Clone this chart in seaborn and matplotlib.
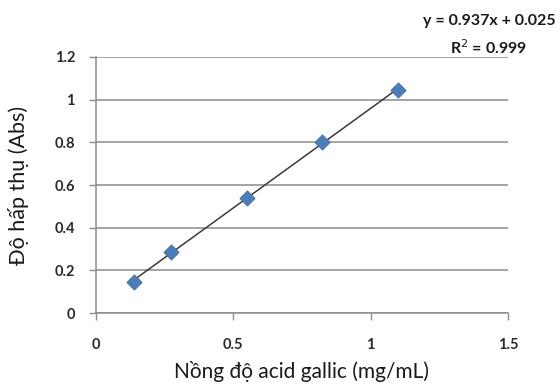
import numpy as np
import seaborn as sns
import matplotlib.pyplot as plt
import pandas as pd

# nồng độ (mg/mL) và độ hấp thụ
conc = [0.1375, 0.275, 0.55, 0.825, 1.1]
absorb = [0.148, 0.288, 0.538, 0.802, 1.047]
x_ticks = [0, 0.5, 1, 1.5]
y_ticks = [0, 0.2, 0.4, 0.6, 0.8, 1, 1.2]
y_tick_labels = ["0", "0.2", "0.4", "0.6", "0.8", "1", "1.2"]
x_tick_labels = ["0", "0.5", "1", "1.5"]

sns.set_style("white")
plt.rcParams['font.family'] = ['Lato', 'DejaVu Sans']

df = pd.DataFrame({"conc": conc, "abs": absorb})

fig = plt.figure(figsize=(5.6, 3.9), dpi=100)
ax = fig.add_axes([0.171, 0.197, 0.736, 0.657])

sns.regplot(data=df, x="conc", y="abs", scatter=False, ci=None, truncate=True,
            color="#3a3a3a", line_kws={"linewidth": 1.1}, ax=ax)
sns.scatterplot(data=df, x="conc", y="abs", marker="D", s=60, color="#4a7ebb",
                edgecolor="#3f6fa8", linewidth=0.6, zorder=3, ax=ax)

ax.set_xlim(0, 1.5)
ax.set_ylim(0, 1.2)
ax.set_xticks(x_ticks)
ax.set_xticklabels(x_tick_labels)
ax.set_yticks(y_ticks)
ax.set_yticklabels(y_tick_labels)
ax.yaxis.grid(True, color="#8c8c8c", linewidth=1.1)
ax.set_axisbelow(True)

for side in ["top", "right"]:
    ax.spines[side].set_visible(False)
for side in ["left", "bottom"]:
    ax.spines[side].set_color("#8c8c8c")
    ax.spines[side].set_linewidth(1.1)

ax.tick_params(axis="both", which="both", length=5, width=1, color="#8c8c8c",
               direction="out", labelsize=10.5, labelcolor="#2a2a2a")
ax.tick_params(axis="x", pad=13)
ax.tick_params(axis="y", pad=10)
for lbl in ax.get_xticklabels() + ax.get_yticklabels():
    lbl.set_fontweight("bold")
ax.xaxis.set_ticks_position("bottom")
ax.yaxis.set_ticks_position("left")

ax.set_xlabel("Nồng độ acid gallic (mg/mL)", fontsize=15, color="#1a1a1a")
ax.set_ylabel("Độ hấp thụ (Abs)", fontsize=15.5, color="#1a1a1a")
ax.xaxis.set_label_coords(0.5, -0.185)
ax.yaxis.set_label_coords(-0.163, 0.5)

fig.text(0.993, 0.945, "y = 0.937x + 0.025", ha="right", va="center",
         fontsize=11.5, color="#1a1a1a", fontweight="bold")
fig.text(0.873, 0.878, "R$^2$ = 0.999", ha="center", va="center",
         fontsize=11.5, color="#1a1a1a", fontweight="bold")

plt.savefig("out.png", dpi=100)
